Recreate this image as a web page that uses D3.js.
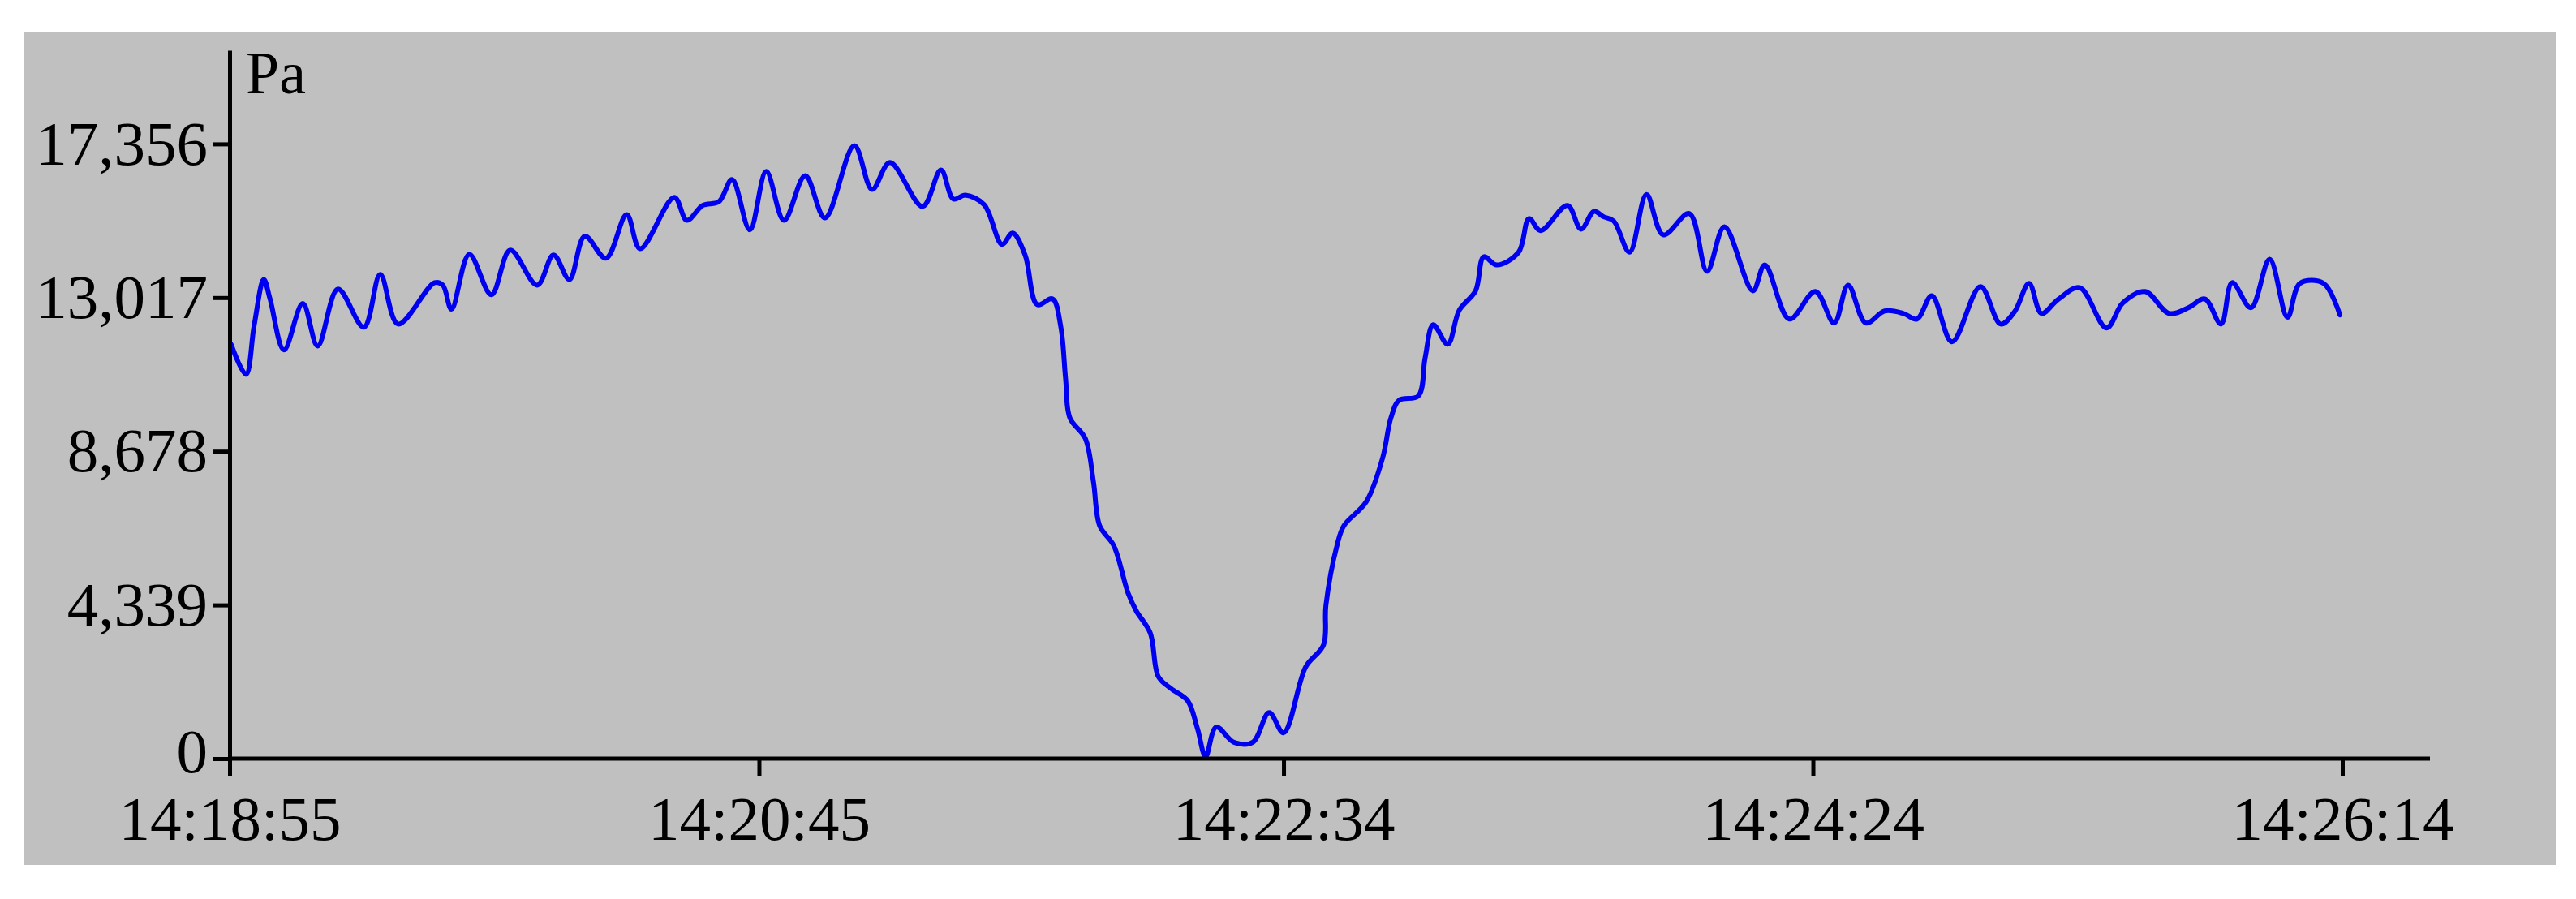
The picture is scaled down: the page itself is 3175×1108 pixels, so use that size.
<!DOCTYPE html>
<html>
<head>
<meta charset="utf-8">
<script src="https://cdn.jsdelivr.net/npm/d3@7"></script>
<style>
  html, body { margin: 0; padding: 0; background: #ffffff; }
  svg { display: block; }
</style>
</head>
<body>
<svg id="chart" width="3175" height="1108"></svg>
<script>
// ---- Data ----
// seconds elapsed since 14:18:55
const seconds = [
  0.3, 3.4, 5.1, 7.1, 8.4, 11.3, 15.2, 18.3, 22.5, 27.9, 31.3, 35.0, 42.6, 44.3, 46.1, 49.8,
  54.4, 58.3, 63.9, 67.3, 70.6, 73.8, 78.2, 82.5, 85.3, 92.4, 95.0, 98.3, 101.7, 104.4, 108.1,
  111.5, 115.2, 119.6, 123.7, 129.8, 133.5, 137.2, 144.0, 147.8, 150.4, 152.9, 156.8, 160.5,
  162.7, 165.3, 167.8, 171.0, 172.7, 173.7, 174.6, 177.8, 179.5, 180.8, 183.7, 186.7, 188.4,
  191.3, 193.0, 195.7, 199.1, 201.1, 202.8, 205.0, 208.7, 212.6, 216.0, 219.0, 223.6, 227.3,
  227.8, 230.1, 231.5, 236.2, 239.6, 241.3, 243.0, 247.0, 248.4, 250.1, 253.1, 255.5, 258.9,
  260.6, 263.3, 267.8, 270.0, 272.4, 278.0, 280.8, 283.5, 285.5, 287.6, 290.9, 294.4, 297.9,
  303.3, 307.0, 310.6, 316.5, 319.0, 324.1, 329.5, 333.4, 336.3, 340.0, 343.9, 347.8, 350.6,
  353.7, 357.9, 363.8, 368.0, 370.9, 373.9, 376.5, 379.9, 384.4, 390.0, 393.4, 398.0, 403.0,
  407.0, 410.4, 413.8, 416.1, 420.0, 423.9, 427.6, 430.2, 435.1, 438.5
];
// pressure, Pa
const pressure = [
  11700, 10850, 12230, 13530, 12980, 11540, 12850, 11650, 13260, 12180, 13670, 12270, 13440, 13370, 12690, 14240,
  13100, 14360, 13370, 14220, 13530, 14750, 14130, 15360, 14400, 15850, 15200, 15620, 15730, 16350, 14930,
  16580, 15200, 16460, 15270, 17310, 16070, 16830, 15590, 16620, 15800, 15910, 15640, 14520,
  14840, 14220, 12820, 12980, 12200, 10740, 9620, 9040, 7810, 6570, 6020, 4670, 4170,
  3550, 2310, 1970, 1630, 850, 60, 890, 460, 460, 1300, 730, 2590, 3210,
  4330, 6020, 6570, 7260, 8500, 9620, 10120, 10240, 11310, 12250, 11700, 12660, 13210,
  14170, 13940, 14290, 15250, 14910, 15620, 14950, 15450, 15300, 15180, 14300, 15930, 14790,
  15390, 13760, 15020, 13210, 13940, 12410, 13190, 12300, 13370, 12300, 12640, 12570, 12410,
  13070, 11770, 13330, 12270, 12620, 13420, 12570, 12960, 13300, 12160, 12870, 13190, 12570,
  12730, 12980, 12270, 13440, 12730, 14100, 12460, 13420, 13420, 12530
];
// tick labels
const yTickValues = [0, 4339, 8678, 13017, 17356];
const xTickSeconds = [0, 110, 219, 329, 439];
const xTickLabels = ["14:18:55", "14:20:45", "14:22:34", "14:24:24", "14:26:14"];
const yUnit = "Pa";

// ---- Layout ----
const svg = d3.select("#chart");
const FONT = "'Liberation Serif', 'Times New Roman', serif";

svg.append("rect")
  .attr("x", 30).attr("y", 39)
  .attr("width", 3120).attr("height", 1027)
  .attr("fill", "#c0c0c0");

const x = d3.scaleLinear().domain([0, 439]).range([283, 2887]);
const xEnd = 2995;
const y = d3.scaleLinear().domain([0, 20000]).range([935, 62]);

const data = seconds.map((s, i) => ({ s: s, v: pressure[i] }));

// line
svg.append("path")
  .datum(data)
  .attr("fill", "none")
  .attr("stroke", "#0000f0")
  .attr("stroke-width", 6)
  .attr("stroke-linejoin", "round")
  .attr("stroke-linecap", "round")
  .attr("d", d3.line().curve(d3.curveCatmullRom.alpha(0.5)).x(d => x(d.s)).y(d => y(d.v)));

// y axis
const yAxis = d3.axisLeft(y)
  .tickValues(yTickValues)
  .tickFormat(d3.format(","))
  .tickSizeInner(21)
  .tickSizeOuter(0)
  .tickPadding(6);
const gy = svg.append("g").attr("transform", "translate(283,0)").call(yAxis);

// x axis
const xAxis = d3.axisBottom(x)
  .tickValues(xTickSeconds)
  .tickFormat((d, i) => xTickLabels[i])
  .tickSizeInner(22)
  .tickSizeOuter(0)
  .tickPadding(23);
const gx = svg.append("g").attr("transform", "translate(0,935)").call(xAxis);
gx.select(".domain").attr("d", `M283,0H${xEnd}`);

[gx, gy].forEach(g => {
  g.select(".domain").attr("stroke", "#000").attr("stroke-width", 5);
  g.selectAll(".tick line").attr("stroke", "#000").attr("stroke-width", 5);
  g.selectAll(".tick text")
    .attr("fill", "#000")
    .style("font-family", FONT)
    .style("font-size", "77px");
});
// keep the "0" label clear of the first time label
gy.selectAll(".tick text").filter(d => d === 0).attr("dy", "0.22em");

// unit label
svg.append("text")
  .attr("x", 303).attr("y", 115)
  .style("font-family", FONT)
  .style("font-size", "74px")
  .attr("fill", "#000")
  .text(yUnit);
</script>
</body>
</html>
